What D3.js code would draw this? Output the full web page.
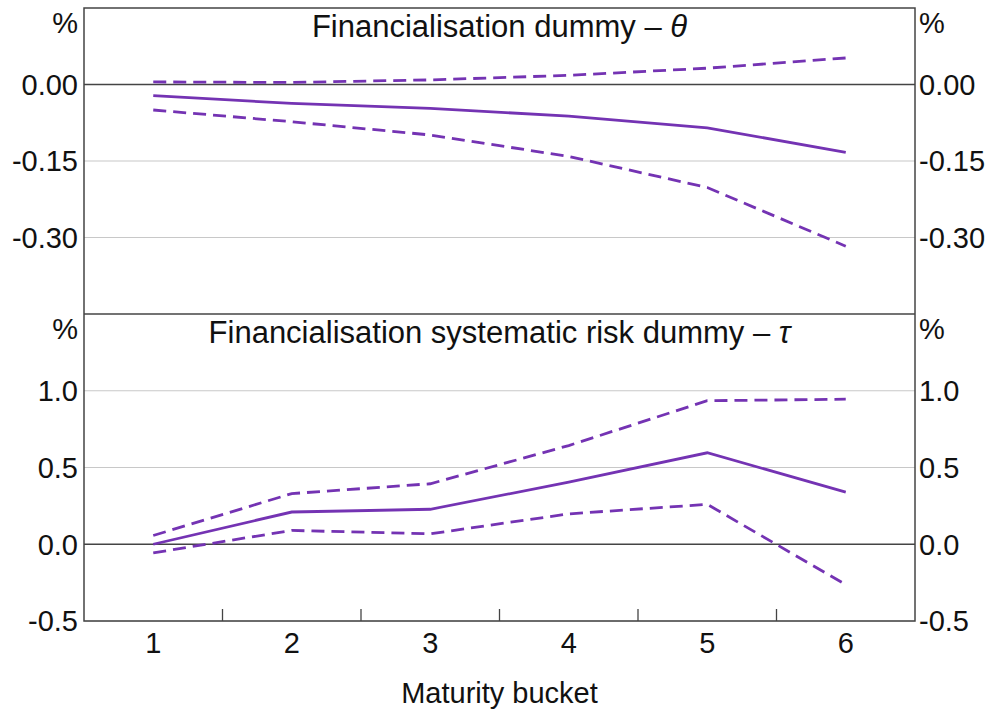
<!DOCTYPE html>
<html lang="en">
<head>
    <meta charset="utf-8">
    <title>Financialisation dummies by maturity bucket</title>
    <script type="text/javascript" src="https://d3js.org/d3.v7.min.js"></script>
    <style>
        body { margin: 0; background: #fff; }
        text { font-family: "Liberation Sans", Arial, sans-serif; fill: #111; }
    </style>
</head>
<body>
    <script type="text/javascript">

        // Maturity buckets
        var buckets = [1, 2, 3, 4, 5, 6];

        // Top panel: financialisation dummy (theta)
        var thetaEst   = [-0.022, -0.037, -0.047, -0.062, -0.085, -0.133];
        var thetaUpper = [0.005, 0.004, 0.009, 0.018, 0.032, 0.052];
        var thetaLower = [-0.050, -0.073, -0.099, -0.141, -0.202, -0.317];

        // Bottom panel: financialisation systematic risk dummy (tau)
        var tauEst   = [0.0, 0.21, 0.228, 0.404, 0.596, 0.34];
        var tauUpper = [0.057, 0.33, 0.394, 0.643, 0.935, 0.945];
        var tauLower = [-0.056, 0.09, 0.068, 0.198, 0.26, -0.263];

        // Tick values
        var thetaTicks = [-0.30, -0.15, 0.00];
        var tauTicks = [-0.5, 0.0, 0.5, 1.0];
        var bucketEdges = [1.5, 2.5, 3.5, 4.5, 5.5];

        var width = 992, height = 713;
        var left = 84, right = 915;
        var purple = "#7433b3";
        var fs = "29px";

        var svg = d3.select("body").append("svg")
            .attr("width", width)
            .attr("height", height);

        var x = d3.scaleLinear().domain([0.5, 6.5]).range([left, right]);

        // plain hyphen for negatives, like the original
        function hy(f) {
            return function(d) { return f(d).replace("\u2212", "-"); };
        }

        var panels = [
            {
                title: "Financialisation dummy – ", sym: "θ",
                top: 8, bottom: 314, domain: [-0.45, 0.15], ticks: thetaTicks,
                fmt: hy(d3.format(".2f")), est: thetaEst, upper: thetaUpper, lower: thetaLower
            },
            {
                title: "Financialisation systematic risk dummy – ", sym: "τ",
                top: 314, bottom: 621, domain: [-0.5, 1.5], ticks: tauTicks,
                fmt: hy(d3.format(".1f")), est: tauEst, upper: tauUpper, lower: tauLower
            }
        ];

        panels.forEach(function(p) {
            var y = d3.scaleLinear().domain(p.domain).range([p.bottom, p.top]);
            var g = svg.append("g");

            // Gridlines
            g.selectAll("line.grid")
                .data(p.ticks.filter(function(t) { return t !== 0; }))
                .enter()
                .append("line")
                .attr("x1", left).attr("x2", right)
                .attr("y1", function(d) { return y(d); })
                .attr("y2", function(d) { return y(d); })
                .attr("stroke", "#c8c8c8")
                .attr("stroke-width", 1.2);

            // Zero line
            g.append("line")
                .attr("x1", left).attr("x2", right)
                .attr("y1", y(0)).attr("y2", y(0))
                .attr("stroke", "#444")
                .attr("stroke-width", 1.3);

            // Lines
            var line = d3.line()
                .x(function(d, i) { return x(buckets[i]); })
                .y(function(d) { return y(d); });

            [p.upper, p.lower].forEach(function(s) {
                g.append("path")
                    .attr("d", line(s))
                    .attr("fill", "none")
                    .attr("stroke", purple)
                    .attr("stroke-width", 2.8)
                    .attr("stroke-dasharray", "13,7");
            });
            g.append("path")
                .attr("d", line(p.est))
                .attr("fill", "none")
                .attr("stroke", purple)
                .attr("stroke-width", 2.8);

            // Tick labels on both sides
            g.selectAll("text.yl")
                .data(p.ticks)
                .enter()
                .append("text")
                .attr("x", left - 6)
                .attr("y", function(d) { return y(d); })
                .attr("dy", "0.36em")
                .attr("text-anchor", "end")
                .style("font-size", fs)
                .text(function(d) { return p.fmt(d); });
            g.selectAll("text.yr")
                .data(p.ticks)
                .enter()
                .append("text")
                .attr("x", right + 4)
                .attr("y", function(d) { return y(d); })
                .attr("dy", "0.36em")
                .attr("text-anchor", "start")
                .style("font-size", fs)
                .text(function(d) { return p.fmt(d); });

            // Unit labels
            g.append("text")
                .attr("x", left - 6).attr("y", p.top + 25)
                .attr("text-anchor", "end")
                .style("font-size", fs)
                .text("%");
            g.append("text")
                .attr("x", right + 4).attr("y", p.top + 25)
                .attr("text-anchor", "start")
                .style("font-size", fs)
                .text("%");

            // Panel title
            var t = g.append("text")
                .attr("x", (left + right) / 2).attr("y", p.top + 29)
                .attr("text-anchor", "middle")
                .style("font-size", "31px")
                .text(p.title);
            t.append("tspan")
                .style("font-style", "italic")
                .text(p.sym);
        });

        // Frame and panel divider
        svg.append("rect")
            .attr("x", left).attr("y", 8)
            .attr("width", right - left).attr("height", 621 - 8)
            .attr("fill", "none")
            .attr("stroke", "#444")
            .attr("stroke-width", 1.5);
        svg.append("line")
            .attr("x1", left).attr("x2", right)
            .attr("y1", 314).attr("y2", 314)
            .attr("stroke", "#444")
            .attr("stroke-width", 1.5);

        // X axis: ticks between buckets, labels at buckets
        svg.selectAll("line.xt")
            .data(bucketEdges)
            .enter()
            .append("line")
            .attr("x1", function(d) { return x(d); })
            .attr("x2", function(d) { return x(d); })
            .attr("y1", 621).attr("y2", 609)
            .attr("stroke", "#444")
            .attr("stroke-width", 1.3);

        svg.selectAll("text.xl")
            .data(buckets)
            .enter()
            .append("text")
            .attr("x", function(d) { return x(d); })
            .attr("y", 653)
            .attr("text-anchor", "middle")
            .style("font-size", fs)
            .text(function(d) { return d; });

        svg.append("text")
            .attr("x", (left + right) / 2).attr("y", 703)
            .attr("text-anchor", "middle")
            .style("font-size", fs)
            .text("Maturity bucket");

    </script>
</body>
</html>
